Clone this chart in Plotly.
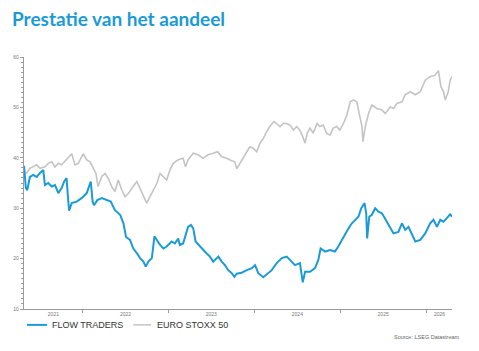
import plotly.graph_objects as go

# ---- data ----
flow_dates = [
    "2021-04-26", "2021-05-04", "2021-05-10", "2021-05-21", "2021-06-04", "2021-06-19",
    "2021-07-03", "2021-07-17", "2021-07-24", "2021-08-07", "2021-08-22", "2021-09-05",
    "2021-09-19", "2021-10-03", "2021-10-14", "2021-10-24", "2021-10-31", "2021-11-04",
    "2021-11-15", "2021-12-06", "2021-12-27", "2022-01-18", "2022-02-04", "2022-02-12",
    "2022-02-18", "2022-03-04", "2022-03-23", "2022-04-13", "2022-04-30", "2022-05-18",
    "2022-06-09", "2022-06-23", "2022-07-04", "2022-07-21", "2022-08-04", "2022-08-19",
    "2022-09-02", "2022-09-16", "2022-09-26", "2022-10-07", "2022-10-22", "2022-11-02",
    "2022-11-12", "2022-11-26", "2022-12-10", "2022-12-24", "2023-01-14", "2023-01-28",
    "2023-02-11", "2023-02-18", "2023-03-04", "2023-03-25", "2023-04-06", "2023-04-16",
    "2023-04-26", "2023-05-14", "2023-06-04", "2023-06-26", "2023-07-10", "2023-08-01",
    "2023-08-15", "2023-08-29", "2023-09-12", "2023-09-27", "2023-10-08", "2023-10-18",
    "2023-11-08", "2023-11-30", "2023-12-21", "2024-01-04", "2024-01-18", "2024-02-08",
    "2024-03-01", "2024-03-15", "2024-04-05", "2024-04-27", "2024-05-18", "2024-06-01",
    "2024-06-22", "2024-07-13", "2024-07-25", "2024-08-04", "2024-08-25", "2024-09-15",
    "2024-09-29", "2024-10-09", "2024-10-28", "2024-11-18", "2024-12-09", "2024-12-23",
    "2025-01-07", "2025-01-22", "2025-02-05", "2025-02-19", "2025-03-05", "2025-03-19",
    "2025-03-31", "2025-04-14", "2025-04-21", "2025-04-25", "2025-05-04", "2025-05-15",
    "2025-05-29", "2025-06-12", "2025-06-27", "2025-07-11", "2025-07-25", "2025-08-15",
    "2025-09-05", "2025-09-20", "2025-10-04", "2025-10-18", "2025-11-02", "2025-11-16",
    "2025-12-07", "2025-12-28", "2026-01-18", "2026-02-01", "2026-02-16", "2026-03-02",
    "2026-03-16", "2026-03-30", "2026-04-13", "2026-04-21",
]
flow_values = [
    38.4, 34.0, 33.6, 36.2, 36.6, 36.2,
    37.0, 37.6, 34.6, 35.0, 34.3, 34.6,
    33.0, 34.0, 35.3, 36.0, 31.6, 29.5,
    31.0, 31.3, 32.0, 33.0, 35.3, 31.3,
    30.6, 31.6, 32.0, 31.6, 31.3, 29.6,
    28.7, 27.0, 24.3, 23.7, 22.0, 21.1,
    20.1, 19.4, 18.4, 19.4, 20.1, 24.4,
    23.7, 22.7, 22.0, 22.4, 23.4, 23.0,
    24.0, 22.7, 23.0, 26.3, 26.7, 26.0,
    23.4, 22.4, 21.4, 20.4, 19.4, 20.4,
    19.4, 18.7, 17.7, 17.1, 16.4, 17.0,
    17.2, 17.7, 18.1, 18.7, 17.1, 16.3,
    17.1, 17.7, 19.1, 20.1, 20.4, 19.7,
    18.7, 19.1, 15.3, 17.4, 17.4, 18.1,
    19.7, 22.0, 21.4, 21.7, 21.4, 22.4,
    23.7, 24.7, 26.0, 27.0, 27.7, 28.3,
    30.0, 31.0, 29.0, 24.0, 28.3, 28.7,
    30.0, 29.3, 29.0, 27.7, 26.7, 25.0,
    25.3, 27.0, 25.7, 26.3, 24.7, 23.4,
    23.7, 25.0, 27.0, 27.7, 26.3, 27.7,
    27.3, 28.0, 28.8, 28.3,
]

stoxx_dates = [
    "2021-04-26", "2021-05-07", "2021-05-21", "2021-06-04", "2021-06-19", "2021-07-03",
    "2021-07-24", "2021-08-07", "2021-08-22", "2021-09-05", "2021-09-19", "2021-10-03",
    "2021-10-24", "2021-11-15", "2021-11-29", "2021-12-13", "2022-01-03", "2022-01-18",
    "2022-02-01", "2022-02-15", "2022-02-26", "2022-03-07", "2022-03-23", "2022-04-06",
    "2022-04-20", "2022-05-04", "2022-05-18", "2022-06-01", "2022-06-16", "2022-06-30",
    "2022-07-14", "2022-07-28", "2022-08-19", "2022-09-02", "2022-09-16", "2022-09-30",
    "2022-10-14", "2022-10-28", "2022-11-12", "2022-11-26", "2022-12-10", "2022-12-24",
    "2023-01-07", "2023-01-21", "2023-02-11", "2023-03-04", "2023-03-14", "2023-03-25",
    "2023-04-16", "2023-05-07", "2023-05-28", "2023-06-18", "2023-07-10", "2023-07-29",
    "2023-08-15", "2023-09-05", "2023-09-27", "2023-10-10", "2023-10-18", "2023-10-31",
    "2023-11-14", "2023-11-30", "2023-12-13", "2023-12-27", "2024-01-11", "2024-01-25",
    "2024-02-08", "2024-02-22", "2024-03-07", "2024-03-24", "2024-04-05", "2024-04-19",
    "2024-05-03", "2024-05-18", "2024-06-01", "2024-06-15", "2024-06-29", "2024-07-13",
    "2024-07-25", "2024-08-04", "2024-08-13", "2024-08-25", "2024-09-07", "2024-09-24",
    "2024-10-06", "2024-10-20", "2024-11-03", "2024-11-18", "2024-12-02", "2024-12-16",
    "2024-12-30", "2025-01-14", "2025-01-29", "2025-02-12", "2025-02-26", "2025-03-12",
    "2025-03-22", "2025-04-03", "2025-04-07", "2025-04-17", "2025-05-01", "2025-05-15",
    "2025-06-05", "2025-06-27", "2025-07-11", "2025-08-01", "2025-08-15", "2025-08-30",
    "2025-09-20", "2025-10-04", "2025-10-25", "2025-11-16", "2025-12-07", "2025-12-28",
    "2026-01-18", "2026-02-08", "2026-02-22", "2026-03-05", "2026-03-16", "2026-03-23",
    "2026-04-05", "2026-04-13", "2026-04-21",
]
stoxx_values = [
    37.2, 37.0, 37.9, 38.2, 38.6, 37.9,
    38.2, 38.9, 39.2, 38.2, 38.9, 38.6,
    39.6, 40.8, 38.6, 38.9, 40.8, 39.6,
    39.2, 37.9, 36.9, 34.3, 36.3, 36.9,
    35.9, 34.3, 33.3, 35.6, 33.6, 32.3,
    32.9, 33.9, 35.3, 33.9, 32.6, 31.0,
    32.3, 33.6, 34.9, 36.9, 36.3, 35.6,
    37.6, 38.9, 39.6, 39.9, 38.2, 39.6,
    40.9, 40.6, 39.9, 40.6, 40.9, 41.2,
    40.2, 39.9, 39.4, 39.2, 37.8, 38.9,
    39.9, 41.2, 42.2, 41.9, 41.2, 42.9,
    43.8, 45.2, 46.2, 47.2, 46.8, 46.2,
    46.8, 46.8, 46.5, 45.5, 46.2, 45.5,
    44.2, 42.9, 44.9, 45.9, 44.9, 46.8,
    46.2, 46.5, 44.9, 44.5, 45.9, 46.2,
    45.5, 46.8, 48.5, 51.1, 51.5, 51.1,
    48.8, 46.2, 43.2, 46.2, 48.8, 50.5,
    49.8, 49.5, 48.8, 50.1, 49.8, 50.8,
    51.1, 52.5, 53.1, 52.5, 53.1, 55.4,
    56.1, 56.4, 57.3, 54.1, 53.1, 51.5,
    53.1, 55.4, 56.1,
]

series_names = ["FLOW TRADERS", "EURO STOXX 50"]
series_colors = ["#1a9bd7", "#c4c4c4"]

year_boundaries = ["2022-01-01", "2023-01-01", "2024-01-01", "2025-01-01", "2026-01-01"]
year_label_pos = ["2021-08-29", "2022-07-02", "2023-07-02", "2024-07-02", "2025-07-02", "2026-02-27"]
year_labels = ["2021", "2022", "2023", "2024", "2025", "2026"]

title_text = "Prestatie van het aandeel"
source_text = "Source: LSEG Datastream"

# ---- figure ----
fig = go.Figure()
fig.add_trace(go.Scatter(x=stoxx_dates, y=stoxx_values, mode="lines", name=series_names[1],
                         line=dict(color=series_colors[1], width=1.6), showlegend=False))
fig.add_trace(go.Scatter(x=flow_dates, y=flow_values, mode="lines", name=series_names[0],
                         line=dict(color=series_colors[0], width=2), showlegend=False))

axis_col = "#9a9a9a"
fig.update_xaxes(
    type="date", range=[flow_dates[0], flow_dates[-1]],
    showline=True, linecolor=axis_col, linewidth=1, showgrid=False, zeroline=False,
    tickmode="array", tickvals=year_label_pos, ticktext=year_labels, ticks="",
    tickfont=dict(family="Liberation Sans, Arial", size=5, color="#777"),
    minor=dict(tickmode="array", tickvals=year_boundaries, ticks="outside",
               ticklen=3, tickcolor=axis_col, showgrid=False),
)
fig.update_yaxes(
    range=[10, 60], dtick=10, tick0=10,
    showline=True, linecolor=axis_col, linewidth=1.2, showgrid=False, zeroline=False,
    ticks="outside", ticklen=3, tickcolor=axis_col,
    tickfont=dict(family="Liberation Sans, Arial", size=5, color="#777"),
    minor=dict(dtick=1, ticks="outside", ticklen=1.5, tickcolor=axis_col, showgrid=False),
)

# legend drawn below the plot
leg_y = -0.063
fig.add_shape(type="line", xref="paper", yref="paper", x0=0.007, x1=0.054, y0=leg_y, y1=leg_y,
              line=dict(color=series_colors[0], width=2))
fig.add_shape(type="line", xref="paper", yref="paper", x0=0.255, x1=0.297, y0=leg_y, y1=leg_y,
              line=dict(color=series_colors[1], width=1.5))
fig.add_annotation(x=0.061, y=leg_y, xref="paper", yref="paper", text=series_names[0],
                   showarrow=False, xanchor="left", yanchor="middle",
                   font=dict(family="Liberation Sans, Arial", size=9, color="#333"))
fig.add_annotation(x=0.306, y=leg_y, xref="paper", yref="paper", text=series_names[1],
                   showarrow=False, xanchor="left", yanchor="middle",
                   font=dict(family="Liberation Sans, Arial", size=9, color="#333"))
fig.add_annotation(x=1.023, y=-0.111, xref="paper", yref="paper", text=source_text,
                   showarrow=False, xanchor="right", yanchor="middle",
                   font=dict(family="Liberation Sans, Arial", size=5.5, color="#666"))

fig.update_layout(
    width=479, height=351,
    margin=dict(l=24, r=27, t=57, b=42),
    paper_bgcolor="white", plot_bgcolor="white",
    title=dict(text=title_text, x=12 / 479, xanchor="left", xref="container",
               y=1 - 19 / 351, yanchor="middle", yref="container",
               font=dict(family="Lato", size=19, color="#1a9bd7", weight=700)),
)

fig.write_html("out.html")
